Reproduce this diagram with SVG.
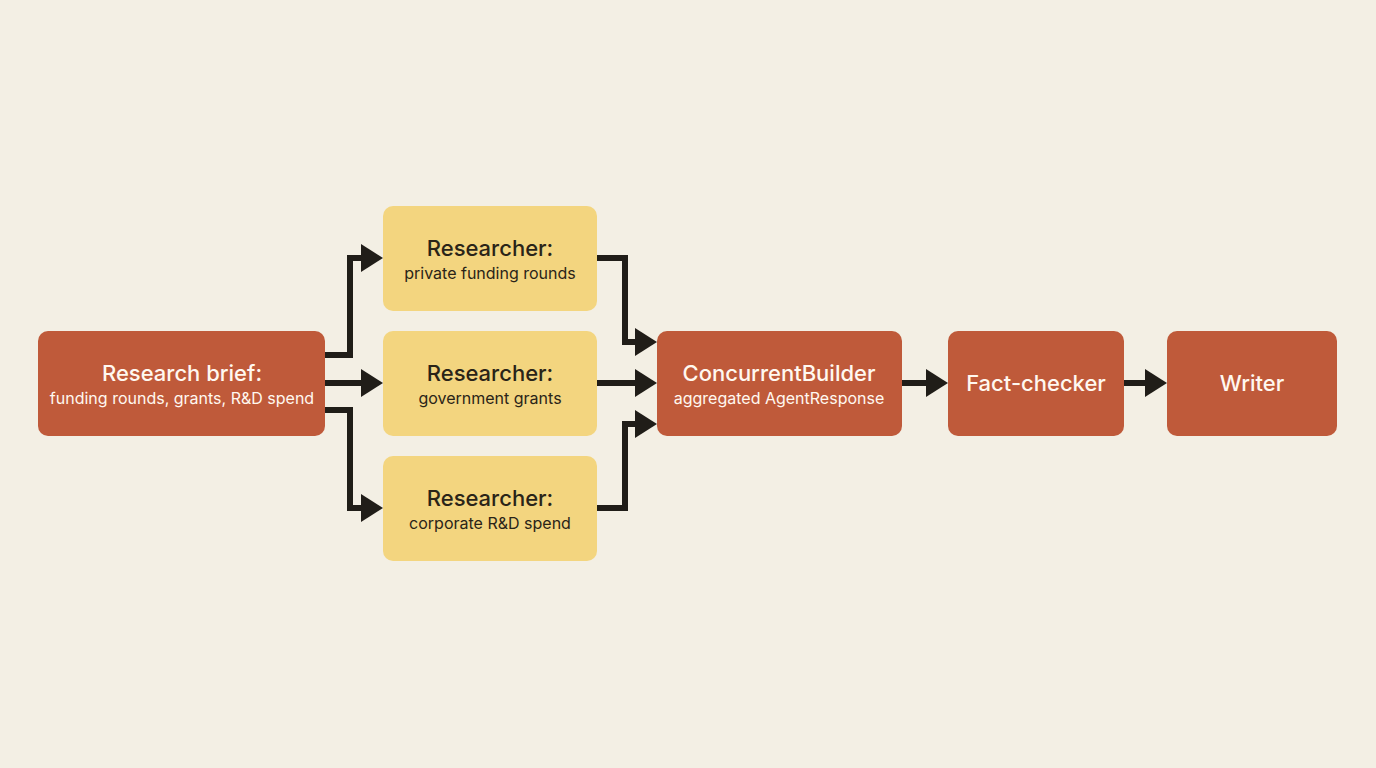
<svg xmlns="http://www.w3.org/2000/svg" width="1376" height="768" viewBox="0 0 1376 768">
<defs>
<style>
.o{fill:#bf5a3a}
.y{fill:#f3d57f}
.t{font-family:Inter,"Liberation Sans",sans-serif;font-size:22px;font-weight:500;text-anchor:middle}
.s{font-family:Inter,"Liberation Sans",sans-serif;font-size:16px;text-anchor:middle}
.w{fill:#fff8f0}
.d{fill:#2a2418}
.c{fill:none;stroke:#201d18;stroke-width:6;stroke-linejoin:miter;marker-end:url(#a)}
</style>
<marker id="a" markerUnits="userSpaceOnUse" markerWidth="24" markerHeight="30" refX="0" refY="14" orient="auto" viewBox="0 0 24 30"><path d="M0,0 L22,14 L0,28 z" fill="#201d18"/></marker>
</defs>
<rect width="1376" height="768" fill="#f3efe4"/>
<g id="connectors">
<path class="c" d="M325,355 H350 V258 H361"/>
<path class="c" d="M325,383 H361"/>
<path class="c" d="M325,410 H350 V508 H361"/>
<path class="c" d="M597,258 H625 V342 H635"/>
<path class="c" d="M597,383 H635"/>
<path class="c" d="M597,508 H625 V424 H635"/>
<path class="c" d="M902,383 H926"/>
<path class="c" d="M1124,383 H1145"/>
</g>
<g id="brief"><rect class="o" x="38" y="331" width="287" height="105" rx="10"/><text class="t w" x="182" y="381">Research brief:</text><text class="s w" x="182" y="404">funding rounds, grants, R&amp;D spend</text></g>
<g id="r1"><rect class="y" x="383" y="206" width="214" height="105" rx="10"/><text class="t d" x="490" y="256">Researcher:</text><text class="s d" x="490" y="279">private funding rounds</text></g>
<g id="r2"><rect class="y" x="383" y="331" width="214" height="105" rx="10"/><text class="t d" x="490" y="381">Researcher:</text><text class="s d" x="490" y="404">government grants</text></g>
<g id="r3"><rect class="y" x="383" y="456" width="214" height="105" rx="10"/><text class="t d" x="490" y="506">Researcher:</text><text class="s d" x="490" y="529">corporate R&amp;D spend</text></g>
<g id="cb"><rect class="o" x="657" y="331" width="245" height="105" rx="10"/><text class="t w" x="779" y="381">ConcurrentBuilder</text><text class="s w" x="779" y="404">aggregated AgentResponse</text></g>
<g id="fc"><rect class="o" x="948" y="331" width="176" height="105" rx="10"/><text class="t w" x="1036" y="391">Fact-checker</text></g>
<g id="wr"><rect class="o" x="1167" y="331" width="170" height="105" rx="10"/><text class="t w" x="1252" y="391">Writer</text></g>
</svg>
